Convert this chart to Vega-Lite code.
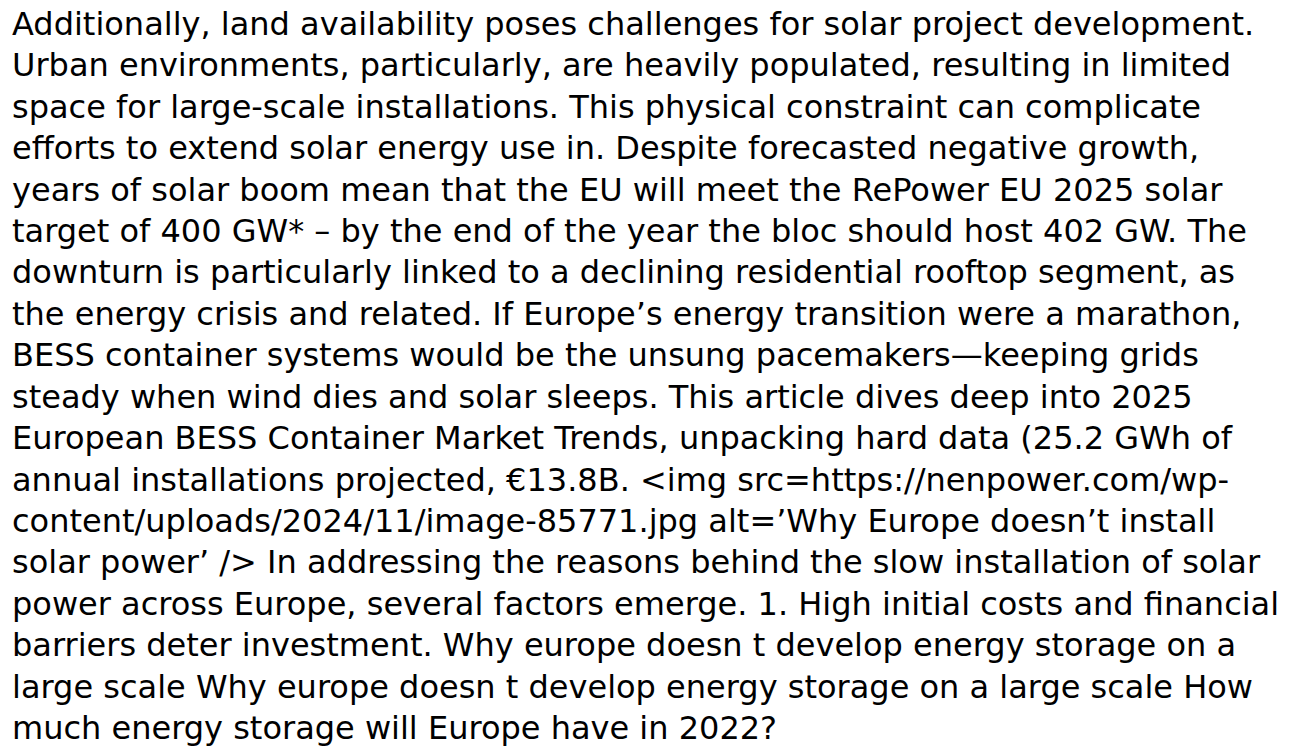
{
  "$schema": "https://vega.github.io/schema/vega-lite/v6.json",
  "width": 1290,
  "height": 746,
  "autosize": {"type": "fit", "contains": "padding"},
  "padding": {"left": 12, "right": 0, "top": 0, "bottom": 0},
  "background": "white",
  "view": {"stroke": null},
  "data": {"values": [
    {"line": 1, "text": "Additionally, land availability poses challenges for solar project development."},
    {"line": 2, "text": "Urban environments, particularly, are heavily populated, resulting in limited"},
    {"line": 3, "text": "space for large-scale installations. This physical constraint can complicate"},
    {"line": 4, "text": "efforts to extend solar energy use in. Despite forecasted negative growth,"},
    {"line": 5, "text": "years of solar boom mean that the EU will meet the RePower EU 2025 solar"},
    {"line": 6, "text": "target of 400 GW* – by the end of the year the bloc should host 402 GW. The"},
    {"line": 7, "text": "downturn is particularly linked to a declining residential rooftop segment, as"},
    {"line": 8, "text": "the energy crisis and related. If Europe’s energy transition were a marathon,"},
    {"line": 9, "text": "BESS container systems would be the unsung pacemakers—keeping grids"},
    {"line": 10, "text": "steady when wind dies and solar sleeps. This article dives deep into 2025"},
    {"line": 11, "text": "European BESS Container Market Trends, unpacking hard data (25.2 GWh of"},
    {"line": 12, "text": "annual installations projected, €13.8B. <img src=https://nenpower.com/wp-"},
    {"line": 13, "text": "content/uploads/2024/11/image-85771.jpg alt=’Why Europe doesn’t install"},
    {"line": 14, "text": "solar power’ /> In addressing the reasons behind the slow installation of solar"},
    {"line": 15, "text": "power across Europe, several factors emerge. 1. High initial costs and financial"},
    {"line": 16, "text": "barriers deter investment. Why europe doesn t develop energy storage on a"},
    {"line": 17, "text": "large scale Why europe doesn t develop energy storage on a large scale How"},
    {"line": 18, "text": "much energy storage will Europe have in 2022?"}
  ]},
  "mark": {"type": "text", "align": "left", "baseline": "alphabetic", "font": "DejaVu Sans", "fontSize": 32, "color": "#000000"},
  "encoding": {
    "x": {"datum": 0, "type": "quantitative", "scale": {"domain": [0, 1]}, "axis": null},
    "y": {"field": "line", "type": "quantitative", "scale": {"domain": [0.1573, 18.12], "reverse": true, "nice": false, "zero": false}, "axis": null},
    "text": {"field": "text"}
  }
}
